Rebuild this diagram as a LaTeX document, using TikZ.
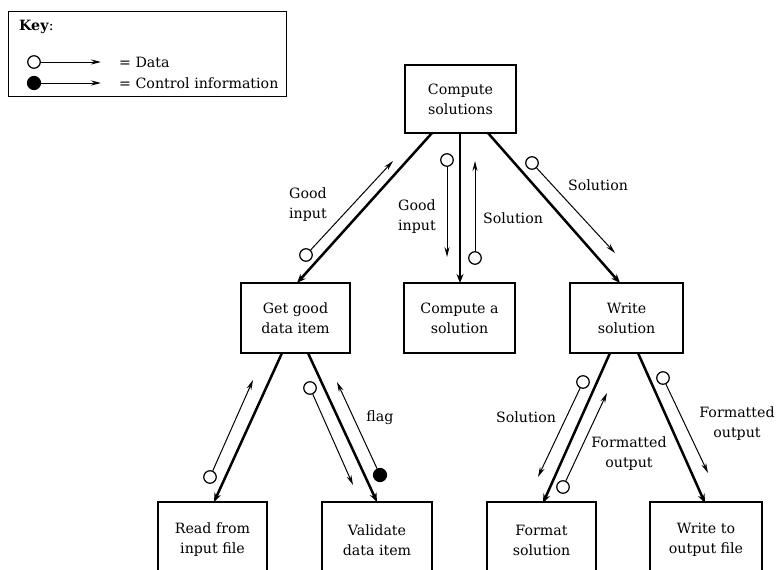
\documentclass[tikz,border=0pt]{standalone}
\usepackage{fontspec}
\setmainfont{DejaVu Serif}
\usetikzlibrary{arrows.meta}
\begin{document}
\begin{tikzpicture}[x=1pt,y=-1pt,
  every node/.style={font=\fontsize{14.2}{20}\selectfont},
  modbox/.style={draw,line width=1.4pt,minimum height=70pt,align=center,inner sep=0pt},
  lowbox/.style={modbox,minimum height=76pt},
  call/.style={line width=2.5pt,-{Stealth[length=9pt,width=7pt]}},
  flow/.style={line width=1pt,-{Stealth[length=10pt,width=5pt]}},
  dcirc/.style={circle,draw,line width=1.2pt,fill=white,minimum size=12.5pt,inner sep=0pt},
  ccirc/.style={circle,draw,line width=1.2pt,fill=black,minimum size=13pt,inner sep=0pt},
  lbl/.style={align=center,inner sep=0pt}]
\useasboundingbox (0,0) rectangle (777,570);
\clip (0,0) rectangle (777,570);
% key
\node[draw,line width=1pt,minimum width=278pt,minimum height=85pt,inner sep=0pt] (key) at (147,53.5) {};
\node[anchor=west,inner sep=0pt] (keyt) at (19,27) {\textbf{Key}:};
\node[dcirc] (kd) at (34,62) {};
\coordinate (kdt) at (101,62);
\draw[flow] (kd) -- (kdt);
\node[anchor=west,inner sep=0pt] (kdl) at (119,62) {= Data};
\node[ccirc] (kc) at (34,83) {};
\coordinate (kct) at (101,83);
\draw[flow] (kc) -- (kct);
\node[anchor=west,inner sep=0pt] (kcl) at (119,83) {= Control information};
% boxes
\node[modbox,minimum width=111pt,minimum height=68pt] (cs) at (460.5,99) {Compute\\solutions};
\node[modbox,minimum width=109pt] (gg) at (295.5,318) {Get good\\data item};
\node[modbox,minimum width=111pt] (ca) at (459.5,318) {Compute a\\solution};
\node[modbox,minimum width=113pt] (ws) at (626.5,318) {Write\\solution};
\node[lowbox,minimum width=109pt] (rf) at (212.5,540) {Read from\\input file};
\node[lowbox,minimum width=110pt] (vd) at (377,540) {Validate\\data item};
\node[lowbox,minimum width=109pt] (fs) at (541.5,540) {Format\\solution};
\node[lowbox,minimum width=112pt] (wo) at (706,540) {Write to\\output file};
% call lines
\coordinate (cs1) at (432,133); \coordinate (gg0) at (297,283);
\coordinate (cs2) at (460,133); \coordinate (ca0) at (460,283);
\coordinate (cs3) at (488,133); \coordinate (ws0) at (620,283);
\coordinate (gg1) at (282,353); \coordinate (rf0) at (214,502);
\coordinate (gg2) at (308,353); \coordinate (vd0) at (377,502);
\coordinate (ws1) at (610,353); \coordinate (fs0) at (543,503);
\coordinate (ws2) at (638,353); \coordinate (wo0) at (705,503);
\draw[call] (cs1) -- (gg0);
\draw[call] (cs2) -- (ca0);
\draw[call] (cs3) -- (ws0);
\draw[call] (gg1) -- (rf0);
\draw[call] (gg2) -- (vd0);
\draw[call] (ws1) -- (fs0);
\draw[call] (ws2) -- (wo0);
% data flows
\node[dcirc] (d1) at (306,255) {}; \coordinate (t1) at (393,161);
\draw[flow] (d1) -- (t1);
\node[lbl,anchor=west,align=left] (l1) at (289,205) {Good\\input};
\node[dcirc] (d2) at (447,160) {}; \coordinate (t2) at (447,257);
\draw[flow] (d2) -- (t2);
\node[lbl,anchor=west,align=left] (l2) at (398,217) {Good\\input};
\node[dcirc] (d3) at (475,258) {}; \coordinate (t3) at (475,161);
\draw[flow] (d3) -- (t3);
\node[lbl] (l3) at (513,218) {Solution};
\node[dcirc] (d4) at (532,163) {}; \coordinate (t4) at (615,253);
\draw[flow] (d4) -- (t4);
\node[lbl] (l4) at (598,185) {Solution};
\node[dcirc] (d5) at (210,477) {}; \coordinate (t5) at (253,380);
\draw[flow] (d5) -- (t5);
\node[dcirc] (d6) at (310,388) {}; \coordinate (t6) at (353,485);
\draw[flow] (d6) -- (t6);
\node[ccirc] (c7) at (380,475) {}; \coordinate (t7) at (337,382);
\draw[flow] (c7) -- (t7);
\node[lbl] (l7) at (380,418) {flag};
\node[dcirc] (d8) at (583,382) {}; \coordinate (t8) at (538,477);
\draw[flow] (d8) -- (t8);
\node[lbl] (l8) at (526,417) {Solution};
\node[dcirc] (d9) at (563,487) {}; \coordinate (t9) at (607,393);
\draw[flow] (d9) -- (t9);
\node[lbl] (l9) at (629,454) {Formatted\\output};
\node[dcirc] (d10) at (663,378) {}; \coordinate (t10) at (708,473);
\draw[flow] (d10) -- (t10);
\node[lbl] (l10) at (737,424) {Formatted\\output};
\end{tikzpicture}
\end{document}
